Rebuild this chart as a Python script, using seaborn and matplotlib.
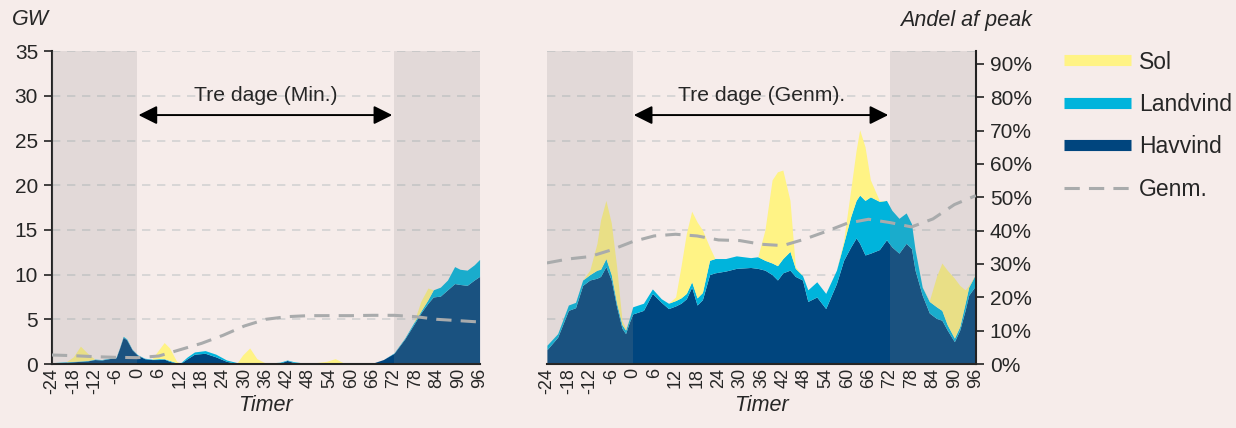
import numpy as np
import pandas as pd
import seaborn as sns
import matplotlib.pyplot as plt
from matplotlib.lines import Line2D

# --- data: left panel (Tre dage, Min.) in GW ---
hours_min = [-24, -20, -18, -16, -14, -12, -10, -8, -6, -5, -4, -3, -1.5, 0, 2, 4, 6, 7.5, 9, 11, 12, 14, 16,
             19, 22, 25, 28, 29.5, 31.5, 33.5, 36, 40, 42, 44, 48, 53, 55.5, 58, 62, 66, 69, 72, 75, 77.5,
             79.5, 81.5, 83, 85, 87, 89, 90.5, 92.5, 94.5, 96]
hav_min = [0.1, 0.2, 0.25, 0.3, 0.35, 0.5, 0.45, 0.6, 0.7, 1.8, 3.0, 2.7, 1.6, 1.0, 0.6, 0.5, 0.5, 0.55, 0.3, 0.1,
           0.05, 0.6, 1.1, 1.2, 0.8, 0.3, 0.05, 0.05, 0.05, 0.05, 0.05, 0.1, 0.4, 0.15, 0.05, 0.05, 0.05, 0.05,
           0.05, 0.1, 0.5, 1.2, 2.8, 4.4, 5.7, 6.8, 7.5, 7.6, 8.3, 9.0, 8.9, 8.8, 9.4, 9.8]
land_min = [0.05, 0.05, 0.05, 0.05, 0.05, 0.05, 0.05, 0.05, 0.05, 0.05, 0.1, 0.1, 0.05, 0.05, 0.05, 0.05, 0.1,
            0.05, 0.1, 0.05, 0.05, 0.2, 0.25, 0.3, 0.3, 0.15, 0.1, 0.05, 0.05, 0.05, 0.05, 0.1, 0.05, 0.1, 0.0,
            0.0, 0.0, 0.0, 0.0, 0.0, 0.0, 0.05, 0.1, 0.2, 0.2, 0.4, 0.8, 1.0, 1.1, 1.9, 1.7, 1.7, 1.7, 1.9]
sol_min = [0.0, 0.0, 0.5, 1.65, 0.8, 0.0, 0.0, 0.0, 0.0, 0.0, 0.0, 0.0, 0.0, 0.0, 0.0, 0.0, 1.0, 1.8, 1.4, 0.15,
           0.0, 0.0, 0.0, 0.0, 0.0, 0.0, 0.0, 0.9, 1.7, 0.5, 0.0, 0.0, 0.0, 0.0, 0.0, 0.25, 0.55, 0.05, 0.0,
           0.0, 0.0, 0.0, 0.0, 0.0, 1.1, 1.3, 0.0, 0.0, 0.0, 0.0, 0.0, 0.0, 0.0, 0.0]

# --- data: right panel (Tre dage, Genm.) in GW ---
hours_avg = [-24, -21, -18, -16, -14, -12, -10, -9, -7.5, -6, -4.5, -3, -2, -1, 0, 3, 5.5, 8, 10, 12, 13.5, 15,
             16.5, 18, 19.5, 21.5, 23, 26, 29, 33, 35, 37, 39, 40.5, 42, 44, 45.5, 47.5, 49, 51.5, 54, 57, 59,
             61, 62.5, 63.5, 65, 66.5, 69, 71, 72.5, 74.5, 76.5, 78, 79, 81, 83, 85, 86.5, 88, 90, 91.5, 93,
             94, 96]
hav_avg = [1.6, 3.0, 6.0, 6.3, 8.8, 9.4, 9.6, 9.8, 10.9, 9.4, 6.4, 4.0, 3.4, 4.6, 5.6, 6.0, 7.9, 6.9, 6.2, 6.5,
           6.8, 7.3, 8.6, 6.6, 7.2, 10.0, 10.2, 10.4, 10.7, 10.8, 10.7, 10.5, 10.0, 9.4, 10.2, 10.5, 9.8, 9.4,
           7.0, 7.5, 6.2, 9.0, 11.6, 13.1, 14.1, 13.5, 12.2, 12.4, 12.8, 13.9, 13.1, 12.4, 13.5, 12.9, 10.5,
           7.7, 5.7, 5.1, 4.9, 3.8, 2.5, 3.8, 6.0, 7.7, 8.8]
land_avg = [0.5, 0.4, 0.6, 0.6, 0.6, 0.6, 0.9, 0.8, 0.9, 0.6, 0.4, 0.4, 0.4, 0.4, 0.8, 0.8, 0.5, 0.4, 0.6, 0.6,
            0.6, 0.6, 0.6, 0.8, 0.8, 1.6, 1.6, 1.4, 1.4, 1.1, 1.3, 1.1, 1.3, 1.6, 1.6, 2.1, 0.9, 0.5, 1.3, 1.7,
            1.7, 1.5, 1.9, 3.4, 4.2, 5.4, 6.1, 6.3, 5.4, 4.4, 4.1, 3.9, 3.4, 2.8, 2.3, 0.9, 1.3, 1.3, 1.1, 0.6,
            0.4, 0.4, 0.8, 0.9, 1.3]
sol_avg = [0.0, 0.0, 0.0, 0.0, 0.0, 0.5, 3.0, 5.5, 6.5, 5.8, 4.1, 0.5, 0.2, 0.0, 0.0, 0.0, 0.0, 0.0, 0.0, 0.4,
           3.5, 6.7, 7.9, 8.5, 7.0, 1.5, 0.0, 0.0, 0.0, 0.0, 0.0, 3.4, 9.3, 10.5, 9.9, 5.7, 0.2, 0.0, 0.0, 0.0,
           0.0, 0.0, 0.3, 3.0, 5.6, 7.3, 6.0, 1.9, 0.1, 0.0, 0.0, 0.0, 0.0, 0.0, 0.0, 0.0, 0.1, 3.4, 5.3, 6.1,
           6.7, 4.6, 1.5, 0.2, 0.0]

# --- Genm. line, share of peak ---
hours_line = [-24, -18, -12, -6, 0, 6, 12, 18, 24, 30, 36, 42, 48, 54, 60, 66, 72, 78, 84, 90, 96]
genm_min = [0.027, 0.025, 0.022, 0.020, 0.019, 0.024, 0.043, 0.062, 0.086, 0.114, 0.134, 0.142, 0.145,
            0.145, 0.145, 0.146, 0.146, 0.142, 0.134, 0.130, 0.126]
genm_avg = [0.303, 0.315, 0.322, 0.342, 0.367, 0.384, 0.389, 0.384, 0.372, 0.370, 0.359, 0.355, 0.374,
            0.397, 0.422, 0.434, 0.424, 0.411, 0.435, 0.478, 0.505]

xticks = list(range(-24, 97, 6))
titles = ["Tre dage (Min.)", "Tre dage (Genm)."]

c_sol = "#FFF385"
c_land = "#00B4DC"
c_hav = "#00457E"
c_line = "#A9ABAC"
bg = "#F6ECEA"

sns.set_theme(style="white")
plt.rcParams['font.family'] = ['Liberation Sans', 'DejaVu Sans']

fig = plt.figure(figsize=(12.36, 4.28), dpi=100, facecolor=bg)
ax1 = fig.add_axes([0.042, 0.1495, 0.346, 0.731])
ax2 = fig.add_axes([0.4425, 0.1495, 0.347, 0.731])

panels = [(ax1, hours_min, hav_min, land_min, sol_min, genm_min),
          (ax2, hours_avg, hav_avg, land_avg, sol_avg, genm_avg)]

for i, (ax, hrs, hav, land, sol, genm) in enumerate(panels):
    ax.set_facecolor(bg)
    ax.stackplot(hrs, hav, land, sol, colors=[c_hav, c_land, c_sol], linewidth=0, zorder=2)
    for k in range(5, 40, 5):
        ax.axhline(k, color="#D2D2D2", lw=1.2, ls=(0, (5, 4)), zorder=1)
    ax.axvspan(-24, 0, color="#8C8C8C", alpha=0.19, lw=0, zorder=3)
    ax.axvspan(72, 96, color="#8C8C8C", alpha=0.19, lw=0, zorder=3)
    ax.set_xlim(-24, 96)
    ax.set_ylim(0, 35)
    ax.set_xticks(xticks)
    ax.set_xticklabels([str(t) for t in xticks], rotation=90, fontsize=13)
    ax.tick_params(axis="x", length=0, pad=3)
    ax.set_xlabel("Timer", fontsize=15.5, style="italic", labelpad=1)
    for s in ["top", "right", "left"]:
        ax.spines[s].set_visible(False)
    ax.spines["bottom"].set_color("#222222")
    ax.spines["bottom"].set_linewidth(1.5)

    ax.annotate("", xy=(0.3, 27.85), xytext=(71.5, 27.85),
                arrowprops=dict(arrowstyle="<|-|>", color="black", lw=1.4, mutation_scale=28,
                                shrinkA=0, shrinkB=0), zorder=6)
    ax.text(36, 30.0, titles[i], ha="center", va="center", fontsize=15.2, zorder=6)

    tw = ax.twinx()
    tw.set_ylim(0, 0.938)
    sns.lineplot(x=hours_line, y=genm, ax=tw, color=c_line, lw=2.2, linestyle=(0, (5, 3)), zorder=5)
    tw.set_xlim(-24, 96)
    for s in ["top", "left"]:
        tw.spines[s].set_visible(False)
    if i == 0:
        tw.spines["right"].set_visible(False)
        tw.set_yticks([])
    else:
        tw.spines["right"].set_color("#222222")
        tw.spines["right"].set_linewidth(1.5)
        tw.set_yticks(np.arange(0, 0.91, 0.1))
        tw.set_yticklabels([f"{int(round(v * 100))}%" for v in np.arange(0, 0.91, 0.1)], fontsize=15)
        tw.tick_params(axis="y", direction="out", length=6, width=1.2, color="#222222", pad=4, right=True)
    tw.set_ylabel("")

# left axis of left panel
ax1.spines["left"].set_visible(True)
ax1.spines["left"].set_color("#222222")
ax1.spines["left"].set_linewidth(1.5)
ax1.set_yticks(range(0, 36, 5))
ax1.set_yticklabels([str(v) for v in range(0, 36, 5)], fontsize=15)
ax1.tick_params(axis="y", direction="out", length=6, width=1.2, color="#222222", left=True, pad=4)
ax2.set_yticks([])

fig.text(0.025, 0.955, "GW", style="italic", fontsize=15.5, ha="center", va="center")
fig.text(0.835, 0.953, "Andel af peak", style="italic", fontsize=15.5, ha="right", va="center")

handles = [Line2D([0], [0], color=c_sol, lw=8, solid_capstyle="butt"),
           Line2D([0], [0], color=c_land, lw=8, solid_capstyle="butt"),
           Line2D([0], [0], color=c_hav, lw=8, solid_capstyle="butt"),
           Line2D([0], [0], color=c_line, lw=2.2, ls=(0, (5, 3)))]
fig.legend(handles, ["Sol", "Landvind", "Havvind", "Genm."], loc="upper left",
           bbox_to_anchor=(0.861, 0.882), frameon=False, fontsize=16.5, handlelength=2.9,
           handletextpad=0.35, labelspacing=0.85, borderaxespad=0, borderpad=0)

fig.savefig("out.png", dpi=100, facecolor=bg)
